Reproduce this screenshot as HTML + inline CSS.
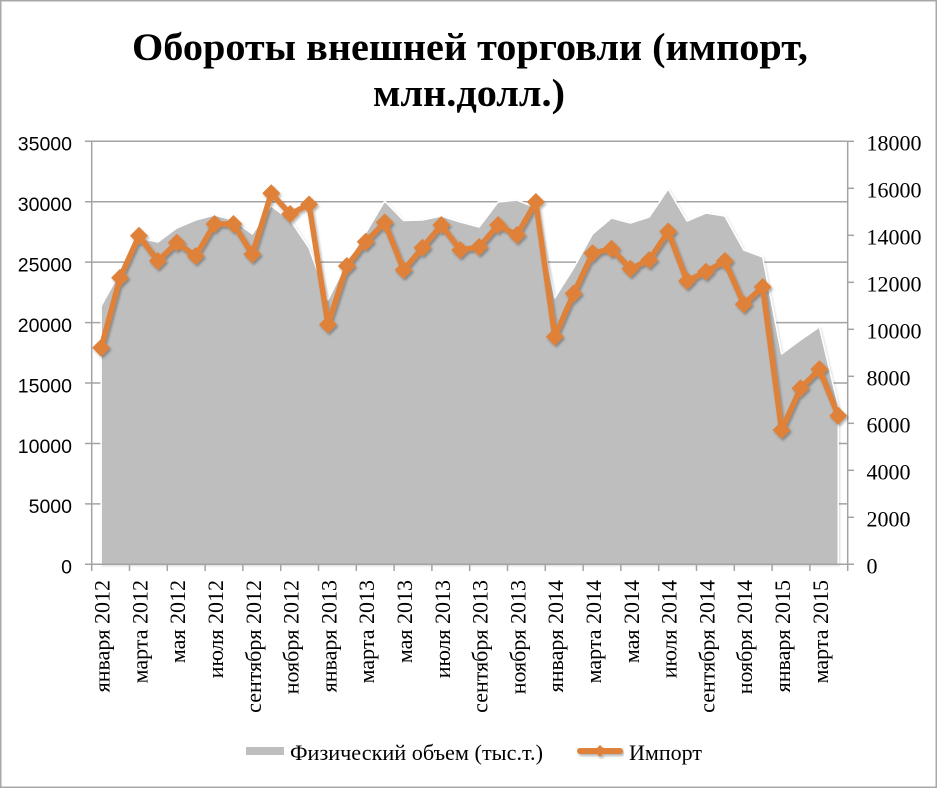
<!DOCTYPE html>
<html>
<head>
<meta charset="utf-8">
<style>
html,body{margin:0;padding:0;background:#fff;}
svg{display:block;}
</style>
</head>
<body>
<svg width="940" height="789" viewBox="0 0 940 789" xmlns="http://www.w3.org/2000/svg">
<defs>
<filter id="sh" x="-10%" y="-10%" width="120%" height="130%">
<feDropShadow dx="1.5" dy="2" stdDeviation="1.4" flood-color="#000" flood-opacity="0.3"/>
</filter>
<filter id="ash" x="-5%" y="-5%" width="110%" height="110%">
<feDropShadow dx="1" dy="1" stdDeviation="1" flood-color="#000" flood-opacity="0.15"/>
</filter>
</defs>
<rect x="0" y="0" width="940" height="789" fill="#fff"/>
<rect x="0.75" y="0.75" width="935.5" height="786.5" fill="none" stroke="#a8a8a8" stroke-width="1.5"/>

<!-- Title -->
<g font-family="'Liberation Serif','DejaVu Serif',serif" font-weight="bold" font-size="39" fill="#000" text-anchor="middle">
<text x="470" y="60" textLength="676" lengthAdjust="spacingAndGlyphs">Обороты внешней торговли (импорт,</text>
<text x="469" y="106" textLength="192" lengthAdjust="spacingAndGlyphs">млн.долл.)</text>
</g>

<!-- Gridlines -->
<g stroke="#a3a3a3" stroke-width="1.5">
<line x1="85" y1="141.3" x2="847.7" y2="141.3"/>
<line x1="85" y1="201.72" x2="847.7" y2="201.72"/>
<line x1="85" y1="262.15" x2="847.7" y2="262.15"/>
<line x1="85" y1="322.58" x2="847.7" y2="322.58"/>
<line x1="85" y1="383.01" x2="847.7" y2="383.01"/>
<line x1="85" y1="443.44" x2="847.7" y2="443.44"/>
<line x1="85" y1="503.87" x2="847.7" y2="503.87"/>
</g>

<!-- Area -->
<polygon filter="url(#ash)" fill="#bebebe" stroke="#ffffff" stroke-width="1.5" stroke-linejoin="round"
points="101.15,564.3 101.15,306 120.05,272 138.95,238 157.85,242 176.75,228 195.65,220 214.55,215 233.45,220 252.35,234 271.25,206 290.15,220 309.05,248 327.95,300 346.85,262 365.75,233 384.65,201 403.55,220.5 422.45,220 441.35,216 460.25,222 479.15,227 498.05,202 516.95,200 535.85,208 554.75,298 573.65,268 592.55,234 611.45,218 630.35,223 649.25,217 668.15,189 687.05,221 705.95,213 724.85,216 743.75,250 762.65,257 781.55,354 800.45,340 819.35,327 838.25,406 838.25,564.3"/>

<!-- Axes -->
<g stroke="#a3a3a3" stroke-width="1.5">
<line x1="91.7" y1="141.3" x2="91.7" y2="564.3"/>
<line x1="847.7" y1="141.3" x2="847.7" y2="564.3"/>
<line x1="85" y1="564.3" x2="854" y2="564.3"/>
<!-- right ticks -->
<line x1="847.7" y1="141.3" x2="854" y2="141.3"/>
<line x1="847.7" y1="188.3" x2="854" y2="188.3"/>
<line x1="847.7" y1="235.3" x2="854" y2="235.3"/>
<line x1="847.7" y1="282.3" x2="854" y2="282.3"/>
<line x1="847.7" y1="329.3" x2="854" y2="329.3"/>
<line x1="847.7" y1="376.3" x2="854" y2="376.3"/>
<line x1="847.7" y1="423.3" x2="854" y2="423.3"/>
<line x1="847.7" y1="470.3" x2="854" y2="470.3"/>
<line x1="847.7" y1="517.3" x2="854" y2="517.3"/>
<!-- bottom ticks -->
<line x1="91.7" y1="564.3" x2="91.7" y2="571"/>
<line x1="129.5" y1="564.3" x2="129.5" y2="571"/>
<line x1="167.3" y1="564.3" x2="167.3" y2="571"/>
<line x1="205.1" y1="564.3" x2="205.1" y2="571"/>
<line x1="242.9" y1="564.3" x2="242.9" y2="571"/>
<line x1="280.7" y1="564.3" x2="280.7" y2="571"/>
<line x1="318.5" y1="564.3" x2="318.5" y2="571"/>
<line x1="356.3" y1="564.3" x2="356.3" y2="571"/>
<line x1="394.1" y1="564.3" x2="394.1" y2="571"/>
<line x1="431.9" y1="564.3" x2="431.9" y2="571"/>
<line x1="469.7" y1="564.3" x2="469.7" y2="571"/>
<line x1="507.5" y1="564.3" x2="507.5" y2="571"/>
<line x1="545.3" y1="564.3" x2="545.3" y2="571"/>
<line x1="583.1" y1="564.3" x2="583.1" y2="571"/>
<line x1="620.9" y1="564.3" x2="620.9" y2="571"/>
<line x1="658.7" y1="564.3" x2="658.7" y2="571"/>
<line x1="696.5" y1="564.3" x2="696.5" y2="571"/>
<line x1="734.3" y1="564.3" x2="734.3" y2="571"/>
<line x1="772.1" y1="564.3" x2="772.1" y2="571"/>
<line x1="809.9" y1="564.3" x2="809.9" y2="571"/>
<line x1="847.7" y1="564.3" x2="847.7" y2="571"/>
</g>

<!-- Import line -->
<g filter="url(#sh)">
<polyline fill="none" stroke="#df8137" stroke-width="5.5" stroke-linejoin="round" stroke-linecap="round"
points="101.15,347.7 120.05,277.7 138.95,235.7 157.85,261 176.75,242.7 195.65,256 214.55,224 233.45,224 252.35,254.3 271.25,193.3 290.15,214 309.05,204.5 327.95,324.5 346.85,266 365.75,241.7 384.65,222.5 403.55,270 422.45,247.7 441.35,225 460.25,250 479.15,247 498.05,225 516.95,235 535.85,202 554.75,336.7 573.65,293.5 592.55,253.3 611.45,248.7 630.35,268.7 649.25,260 668.15,231.5 687.05,281 705.95,271.7 724.85,261 743.75,304.2 762.65,287 781.55,430 800.45,388.3 819.35,369.3 838.25,415.7"/>
<g fill="#df8137">
<path d="M101.15,338.7l9,9l-9,9l-9,-9z"/>
<path d="M120.05,268.7l9,9l-9,9l-9,-9z"/>
<path d="M138.95,226.7l9,9l-9,9l-9,-9z"/>
<path d="M157.85,252l9,9l-9,9l-9,-9z"/>
<path d="M176.75,233.7l9,9l-9,9l-9,-9z"/>
<path d="M195.65,247l9,9l-9,9l-9,-9z"/>
<path d="M214.55,215l9,9l-9,9l-9,-9z"/>
<path d="M233.45,215l9,9l-9,9l-9,-9z"/>
<path d="M252.35,245.3l9,9l-9,9l-9,-9z"/>
<path d="M271.25,184.3l9,9l-9,9l-9,-9z"/>
<path d="M290.15,205l9,9l-9,9l-9,-9z"/>
<path d="M309.05,195.5l9,9l-9,9l-9,-9z"/>
<path d="M327.95,315.5l9,9l-9,9l-9,-9z"/>
<path d="M346.85,257l9,9l-9,9l-9,-9z"/>
<path d="M365.75,232.7l9,9l-9,9l-9,-9z"/>
<path d="M384.65,213.5l9,9l-9,9l-9,-9z"/>
<path d="M403.55,261l9,9l-9,9l-9,-9z"/>
<path d="M422.45,238.7l9,9l-9,9l-9,-9z"/>
<path d="M441.35,216l9,9l-9,9l-9,-9z"/>
<path d="M460.25,241l9,9l-9,9l-9,-9z"/>
<path d="M479.15,238l9,9l-9,9l-9,-9z"/>
<path d="M498.05,216l9,9l-9,9l-9,-9z"/>
<path d="M516.95,226l9,9l-9,9l-9,-9z"/>
<path d="M535.85,193l9,9l-9,9l-9,-9z"/>
<path d="M554.75,327.7l9,9l-9,9l-9,-9z"/>
<path d="M573.65,284.5l9,9l-9,9l-9,-9z"/>
<path d="M592.55,244.3l9,9l-9,9l-9,-9z"/>
<path d="M611.45,239.7l9,9l-9,9l-9,-9z"/>
<path d="M630.35,259.7l9,9l-9,9l-9,-9z"/>
<path d="M649.25,251l9,9l-9,9l-9,-9z"/>
<path d="M668.15,222.5l9,9l-9,9l-9,-9z"/>
<path d="M687.05,272l9,9l-9,9l-9,-9z"/>
<path d="M705.95,262.7l9,9l-9,9l-9,-9z"/>
<path d="M724.85,252l9,9l-9,9l-9,-9z"/>
<path d="M743.75,295.2l9,9l-9,9l-9,-9z"/>
<path d="M762.65,278l9,9l-9,9l-9,-9z"/>
<path d="M781.55,421l9,9l-9,9l-9,-9z"/>
<path d="M800.45,379.3l9,9l-9,9l-9,-9z"/>
<path d="M819.35,360.3l9,9l-9,9l-9,-9z"/>
<path d="M838.25,406.7l9,9l-9,9l-9,-9z"/>
</g>
</g>

<!-- Left axis labels -->
<g font-family="'Liberation Sans','DejaVu Sans',sans-serif" font-size="19.5" fill="#000" text-anchor="end">
<text x="72" y="150.7">35000</text>
<text x="72" y="211.1">30000</text>
<text x="72" y="271.5">25000</text>
<text x="72" y="332">20000</text>
<text x="72" y="392.4">15000</text>
<text x="72" y="452.8">10000</text>
<text x="72" y="513.2">5000</text>
<text x="72" y="573.6">0</text>
</g>

<!-- Right axis labels -->
<g font-family="'Liberation Serif','DejaVu Serif',serif" font-size="22" fill="#000">
<text x="866.5" y="150.7">18000</text>
<text x="866.5" y="197.7">16000</text>
<text x="866.5" y="244.7">14000</text>
<text x="866.5" y="291.7">12000</text>
<text x="866.5" y="338.7">10000</text>
<text x="866.5" y="385.7">8000</text>
<text x="866.5" y="432.7">6000</text>
<text x="866.5" y="479.7">4000</text>
<text x="866.5" y="526.7">2000</text>
<text x="866.5" y="573.7">0</text>
</g>

<!-- X labels -->
<g font-family="'Liberation Serif','DejaVu Serif',serif" font-size="22" fill="#000" text-anchor="end">
<text transform="translate(109.6,580) rotate(-90)">января 2012</text>
<text transform="translate(147.4,580) rotate(-90)">марта 2012</text>
<text transform="translate(185.2,580) rotate(-90)">мая 2012</text>
<text transform="translate(223,580) rotate(-90)">июля 2012</text>
<text transform="translate(260.8,580) rotate(-90)">сентября 2012</text>
<text transform="translate(298.6,580) rotate(-90)">ноября 2012</text>
<text transform="translate(336.4,580) rotate(-90)">января 2013</text>
<text transform="translate(374.2,580) rotate(-90)">марта 2013</text>
<text transform="translate(412,580) rotate(-90)">мая 2013</text>
<text transform="translate(449.8,580) rotate(-90)">июля 2013</text>
<text transform="translate(487.6,580) rotate(-90)">сентября 2013</text>
<text transform="translate(525.4,580) rotate(-90)">ноября 2013</text>
<text transform="translate(563.2,580) rotate(-90)">января 2014</text>
<text transform="translate(601,580) rotate(-90)">марта 2014</text>
<text transform="translate(638.8,580) rotate(-90)">мая 2014</text>
<text transform="translate(676.6,580) rotate(-90)">июля 2014</text>
<text transform="translate(714.4,580) rotate(-90)">сентября 2014</text>
<text transform="translate(752.2,580) rotate(-90)">ноября 2014</text>
<text transform="translate(790,580) rotate(-90)">января 2015</text>
<text transform="translate(827.8,580) rotate(-90)">марта 2015</text>
</g>

<!-- Legend -->
<rect x="246" y="747" width="38" height="8" fill="#bebebe"/>
<text x="290" y="760" font-family="'Liberation Serif','DejaVu Serif',serif" font-size="22" fill="#000" textLength="253" lengthAdjust="spacingAndGlyphs">Физический объем (тыс.т.)</text>
<g filter="url(#sh)">
<line x1="580" y1="751" x2="620" y2="751" stroke="#df8137" stroke-width="6" stroke-linecap="round"/>
<path d="M600,745l6,6l-6,6l-6,-6z" fill="#df8137"/>
</g>
<text x="629" y="760" font-family="'Liberation Serif','DejaVu Serif',serif" font-size="22" fill="#000" textLength="73" lengthAdjust="spacingAndGlyphs">Импорт</text>
</svg>
</body>
</html>
